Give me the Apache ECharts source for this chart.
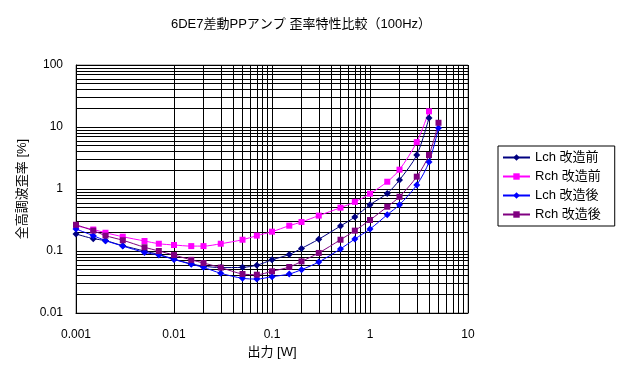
<!DOCTYPE html>
<html><head><meta charset="utf-8">
<script src="https://cdn.jsdelivr.net/npm/echarts@6/dist/echarts.min.js"></script>
<style>html,body{margin:0;padding:0;background:#fff}#c{width:628px;height:379px}</style>
</head><body><div id="c"></div>
<script>
const power = [0.001,0.0015,0.002,0.003,0.005,0.007,0.01,0.015,0.02,0.03,0.05,0.07,0.1,0.15,0.2,0.3,0.5,0.7,1,1.5,2,3,4,5];
const lchBefore = [0.188,0.158,0.147,0.122,0.100,0.088,0.074,0.062,0.057,0.054,0.0545,0.059,0.072,0.088,0.11,0.155,0.253,0.353,0.558,0.85,1.40,3.53,14.0];
const rchBefore = [0.255,0.222,0.197,0.170,0.145,0.131,0.125,0.12,0.12,0.131,0.152,0.177,0.205,0.256,0.294,0.372,0.50,0.62,0.84,1.31,2.05,5.7,17.9];
const lchAfter = [0.226,0.177,0.147,0.12,0.095,0.086,0.073,0.061,0.0545,0.0437,0.0363,0.0353,0.0385,0.0426,0.05,0.0665,0.108,0.156,0.226,0.385,0.558,1.16,2.72,9.64];
const rchAfter = [0.265,0.213,0.177,0.149,0.115,0.100,0.086,0.072,0.064,0.054,0.0426,0.0415,0.047,0.0552,0.068,0.093,0.152,0.213,0.316,0.518,0.75,1.58,3.53,11.7];
const seriesNames = ['Lch 改造前','Rch 改造前','Lch 改造後','Rch 改造後'];
const xTicks = [0.001,0.01,0.1,1,10];
const yTicks = [0.01,0.1,1,10,100];

const FONT = '"Liberation Sans","Noto Sans CJK JP",sans-serif';
function gridVals(lo, hi){ const out=[]; for(let d=lo; d<hi*0.99; d*=10){ for(let k=1;k<=9;k++){ out.push(+(d*k).toPrecision(3)); } } out.push(hi); return out; }
const vx = gridVals(xTicks[0], xTicks[xTicks.length-1]);
const hy = gridVals(yTicks[0], yTicks[yTicks.length-1]);
const gridLines = vx.map(v=>({xAxis:v})).concat(hy.map(v=>({yAxis:v})));

function pairs(vals){ return vals.map((v,i)=>[power[i], v]); }
function mk(name, vals, color, symbol, size){
  return {name, type:'line', data:pairs(vals), smooth:0.3, symbol, symbolSize:size,
    showAllSymbol:true, z:5, lineStyle:{color, width:1}, itemStyle:{color}};
}
const chart = echarts.init(document.getElementById('c'));
chart.setOption({
  animation:false,
  backgroundColor:'#fff',
  textStyle:{fontFamily:FONT},
  title:{text:'6DE7差動PPアンプ 歪率特性比較（100Hz）', left:166, top:13,
    textStyle:{fontSize:13, fontWeight:'normal', color:'#000', fontFamily:FONT}},
  grid:{left:76, top:65, right:160, bottom:66, show:true, borderColor:'#808080', borderWidth:1},
  legend:{data:seriesNames, orient:'vertical', left:498, top:146, itemWidth:27, itemHeight:8, itemGap:6,
    padding:[5,14,5,4], borderColor:'#000', borderWidth:1, textStyle:{fontSize:13, color:'#000', fontFamily:FONT}},
  xAxis:{type:'log', logBase:10, min:xTicks[0], max:xTicks[xTicks.length-1],
    name:'出力 [W]', nameLocation:'middle', nameGap:30, nameTextStyle:{fontSize:13,color:'#000'},
    axisLine:{lineStyle:{color:'#000'}}, axisTick:{show:false},
    axisLabel:{color:'#000', fontSize:12, margin:16, formatter:v=>String(+v.toPrecision(3))},
    splitLine:{show:false}},
  yAxis:{type:'log', logBase:10, min:yTicks[0], max:yTicks[yTicks.length-1],
    name:'全高調波歪率 [%]', nameLocation:'middle', nameGap:47, nameRotate:90, nameTextStyle:{fontSize:13,color:'#000'},
    axisLine:{show:true, lineStyle:{color:'#000'}}, axisTick:{show:false},
    axisLabel:{color:'#000', fontSize:12, margin:13, formatter:v=>String(+v.toPrecision(3))},
    splitLine:{show:false}},
  series:[
    {name:'grid', type:'line', data:[[power[0], 1]], showSymbol:false, lineStyle:{width:0}, z:1, silent:true,
      markLine:{silent:true, symbol:['none','none'], label:{show:false}, animation:false,
        lineStyle:{color:'#000', width:1, type:'solid'}, emphasis:{disabled:true}, data:gridLines}},
    mk(seriesNames[0], lchBefore, '#000080', 'diamond', 7),
    mk(seriesNames[1], rchBefore, '#FF00FF', 'rect', 6),
    mk(seriesNames[2], lchAfter, '#0000FF', 'diamond', 7),
    mk(seriesNames[3], rchAfter, '#800080', 'rect', 6)
  ]
});
</script></body></html>
